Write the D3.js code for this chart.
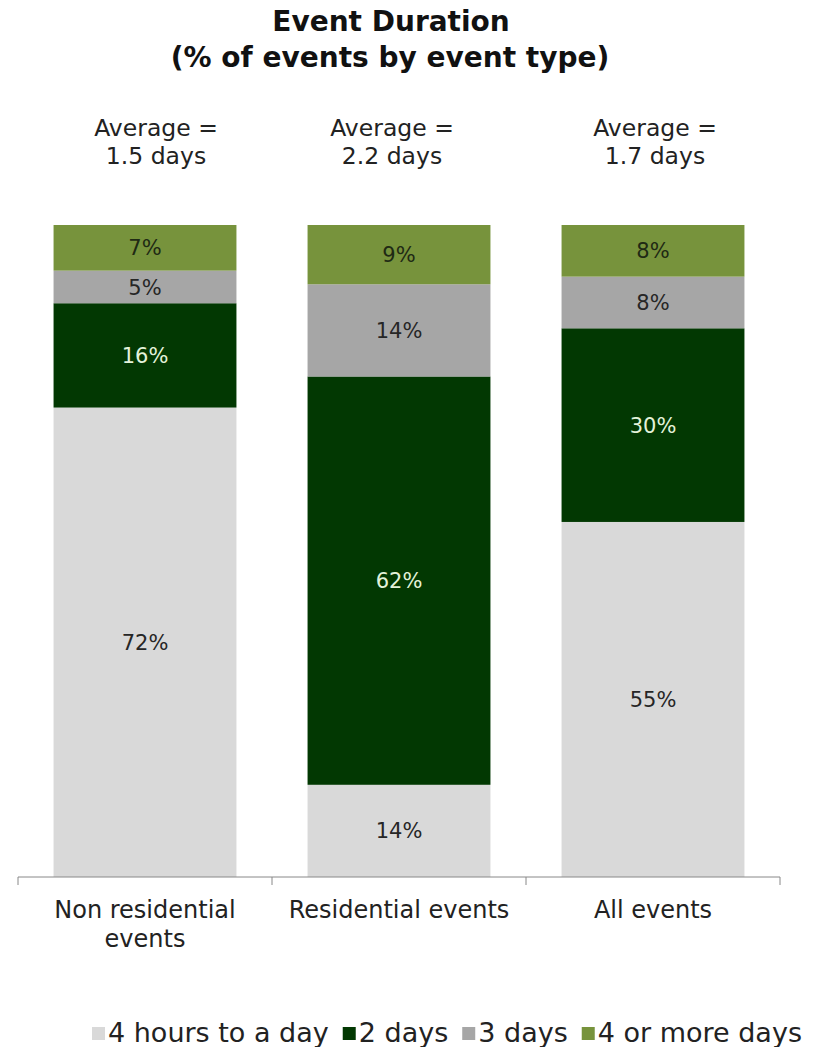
<!DOCTYPE html>
<html>
<head>
<meta charset="utf-8">
<script src="https://cdn.jsdelivr.net/npm/d3@7"></script>
<style>
  html, body { margin: 0; padding: 0; background: #fff; }
  svg { display: block; }
  text { font-family: "DejaVu Sans", Verdana, sans-serif; }
</style>
</head>
<body>
<svg id="chart" width="816" height="1047"></svg>
<script>
// Event types along the x axis
const categories = ["Non residential events", "Residential events", "All events"];
const categoryLines = [["Non residential", "events"], ["Residential events"], ["All events"]];
const averages = ["1.5 days", "2.2 days", "1.7 days"];

// Duration groups, stacked bottom to top
const seriesNames = ["4 hours to a day", "2 days", "3 days", "4 or more days"];
const shortHours = [72, 14, 55];
const twoDays = [16, 62, 30];
const threeDays = [5, 14, 8];
const fourPlusDays = [7, 9, 8];

const seriesColors = ["#d9d9d9", "#023802", "#a6a6a6", "#77933c"];
const labelColors = ["#262626", "#e3f2da", "#262626", "#1f2a14"];

const rows = categories.map((c, i) => ({
  category: c,
  [seriesNames[0]]: shortHours[i],
  [seriesNames[1]]: twoDays[i],
  [seriesNames[2]]: threeDays[i],
  [seriesNames[3]]: fourPlusDays[i]
}));

const svg = d3.select("#chart");

const x = d3.scaleBand().domain(categories).range([18, 780]).paddingInner(0.28).paddingOuter(0.14);
const y = d3.scaleLinear().domain([0, 1]).range([877, 225]);

const stack = d3.stack().keys(seriesNames).offset(d3.stackOffsetExpand);
const layers = stack(rows);

// Title
const title = svg.append("text")
  .attr("x", 390).attr("text-anchor", "middle")
  .attr("font-weight", "bold").attr("font-size", 28).attr("fill", "#111");
title.append("tspan").attr("x", 391).attr("y", 31).text("Event Duration");
title.append("tspan").attr("x", 390).attr("y", 67).text("(% of events by event type)");

// Bars
const layerG = svg.append("g").selectAll("g").data(layers).join("g")
  .attr("fill", (d, i) => seriesColors[i]);

layerG.selectAll("rect").data(d => d).join("rect")
  .attr("x", d => x(d.data.category))
  .attr("width", x.bandwidth())
  .attr("y", d => y(d[1]))
  .attr("height", d => y(d[0]) - y(d[1]));

// Segment value labels
svg.append("g").selectAll("g").data(layers).join("g")
  .each(function (layer, li) {
    d3.select(this).selectAll("text").data(layer).join("text")
      .attr("x", d => x(d.data.category) + x.bandwidth() / 2)
      .attr("y", d => (y(d[0]) + y(d[1])) / 2)
      .attr("dy", "0.36em")
      .attr("text-anchor", "middle")
      .attr("font-size", 21)
      .attr("fill", labelColors[li])
      .text(d => d.data[layer.key] + "%");
  });

// Average annotations above each bar
const avgOffsets = [11, -7, 2];
categories.forEach((c, i) => {
  const cx = x(c) + x.bandwidth() / 2 + avgOffsets[i];
  const t = svg.append("text").attr("text-anchor", "middle")
    .attr("font-size", 23.5).attr("fill", "#222");
  t.append("tspan").attr("x", cx).attr("y", 136).text("Average =");
  t.append("tspan").attr("x", cx).attr("y", 164).text(averages[i]);
});

// X axis with ticks between categories
const axisY = 877;
const axisG = svg.append("g");
axisG.append("line")
  .attr("x1", x.range()[0]).attr("x2", x.range()[1])
  .attr("y1", axisY).attr("y2", axisY)
  .attr("stroke", "#888").attr("stroke-width", 1);
const tickXs = [x.range()[0]].concat(categories.map(c => x(c) + x.bandwidth() + x.step() * x.paddingInner() / 2));
tickXs[tickXs.length - 1] = x.range()[1];
axisG.selectAll("line.tick").data(tickXs).join("line")
  .attr("class", "tick")
  .attr("x1", d => d).attr("x2", d => d)
  .attr("y1", axisY).attr("y2", axisY + 8)
  .attr("stroke", "#888");

categories.forEach((c, i) => {
  const cx = x(c) + x.bandwidth() / 2;
  const t = svg.append("text").attr("text-anchor", "middle")
    .attr("font-size", 24).attr("fill", "#222");
  categoryLines[i].forEach((line, j) => {
    t.append("tspan").attr("x", cx).attr("y", 918 + j * 29).text(line);
  });
});

// Legend
const legend = svg.append("g").attr("transform", "translate(92,1042)");
let lx = 0;
seriesNames.forEach((name, i) => {
  const item = legend.append("g").attr("transform", `translate(${lx},0)`);
  item.append("rect").attr("x", 0).attr("y", -15).attr("width", 13).attr("height", 13)
    .attr("fill", seriesColors[i]);
  const txt = item.append("text").attr("x", 16).attr("y", 0)
    .attr("font-size", 27).attr("fill", "#222").text(name);
  lx += 16 + txt.node().getComputedTextLength() + 14;
});
</script>
</body>
</html>
